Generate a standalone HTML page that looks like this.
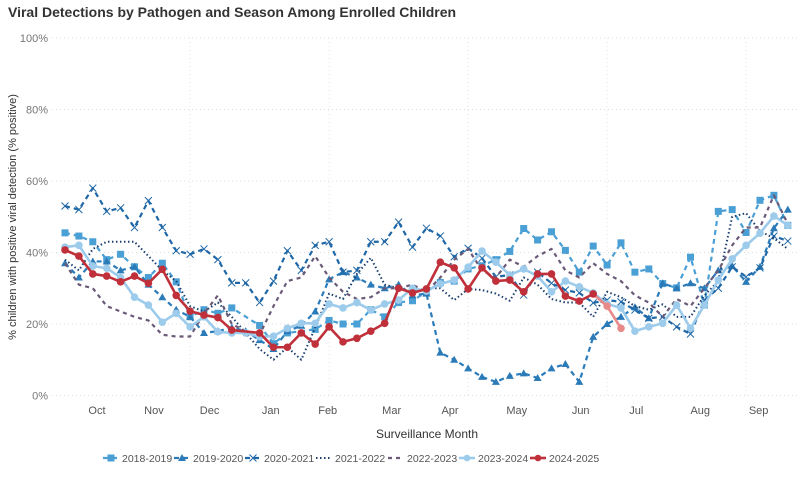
<!DOCTYPE html>
<html><head><meta charset="utf-8"><style>
body{margin:0;background:#fff;font-family:"Liberation Sans",sans-serif;}
svg text{font-family:"Liberation Sans",sans-serif;}
</style></head><body>
<svg id="chart" width="805" height="480" xmlns="http://www.w3.org/2000/svg">
<text x="8" y="17" font-size="14" font-weight="bold" fill="#333">Viral Detections by Pathogen and Season Among Enrolled Children</text>
<g id="grid"></g>
<g id="yticks"></g>
<g id="xticks"></g>
<text transform="translate(16,217) rotate(-90)" text-anchor="middle" font-size="11" fill="#333">% children with positive viral detection (% positive)</text>
<text x="427" y="438" text-anchor="middle" font-size="12" fill="#333">Surveillance Month</text>
<g id="series"></g>
<g id="legend"></g>
</svg>
<script>
const yTicks=[0,20,40,60,80,100];
const monthLabels=['Oct','Nov','Dec','Jan','Feb','Mar','Apr','May','Jun','Jul','Aug','Sep'];
const monthWeeks=[2.3,6.4,10.4,14.8,18.9,23.5,27.7,32.5,37.1,41.1,45.7,49.9];
const gridWeeks=[9,19,29,39,49];
const seasons=['2018-2019','2019-2020','2020-2021','2021-2022','2022-2023','2023-2024','2024-2025'];
const s2018=[45.5,44.6,43,38,39.5,36,33,37,31.8,22,24,23,24.5,null,19.6,14.5,17.5,null,18.5,21,20,20,24,22,26,26.5,29,31.6,32,35.4,36.3,38,40.3,46.7,43.5,45.8,40.6,34.5,41.8,36.5,42.7,34.5,35.4,31.3,30.1,38.7,25.3,51.5,52,45.6,54.6,56,47.6];
const s2019=[37,33,37.5,37.5,35,36,31,27.5,24,22,17.5,18,19,18,15.5,13,18,19.5,23.5,32.5,34.5,33,31,30,31,28,28.5,12,10,7.6,5.2,3.8,5.5,6.2,4.9,7.6,8.8,3.8,16.4,20,22,24.7,21.6,31.4,30,31.4,30,35,36.2,31.8,36,46.8,52];
const s2020=[53,52,58,51.5,52.5,47,54.5,47,40.5,39.5,41,38,31.5,31.5,26,32,40.5,35,42,43,34.5,35,43,43,48.5,41.5,46.8,44.6,38.8,41.2,38.4,33.2,33.7,28.1,34.5,31.4,29.5,28.7,25.9,26.7,26.2,23.9,21.6,22,19.2,17.2,26.7,30,36,33.2,35.7,44.6,43.2];
const s2021=[38,35,41,43,43,43,39,35,32,25,23.5,26,22,17.5,13,10,13.5,10,19,28.5,27,34,38.5,31,30,29,30,30,26.7,29.8,29.5,28.5,26.5,33,31,27,26,26,22,29,27.5,25,24,25.5,22,22,28,32,50,51,46,44,41];
const s2022=[37,31,30,25,23.5,22,21,17,16.5,16.5,23,28,20,18,17,25,32,33,39,33,29,27,27.5,30,30,31,29,33,38,41,35,33,38,36,39,41,35,33,37,34,32,28,26,22,27,25,30,35,42,47,47,56,48];
const s2023=[41.5,42,36.2,35.6,33,27.5,25.3,20.5,23,19.2,22,17.8,17.5,17.5,16.4,16.6,18.8,20.2,20.2,25.6,24.5,26,23.9,25.6,26.7,30,29.2,31.2,32.3,35.9,40.4,37.3,33.7,35.4,33.4,29,32,30.4,28.7,25.6,24.5,18,19.2,20.2,25.3,18.8,25.3,32.3,38.2,42,45.4,50.2,47.6];
const s2024=[40.7,39,34,33.4,31.8,33.4,31.4,35.3,28,23.6,22.5,21.8,18.3,null,17.5,13.5,13.5,17.5,14.4,19.2,15,16,18,20.2,30,28.7,29.8,37.3,35.7,29.8,35.7,32,32.3,29,34,34,27.8,26.4,28.4,25,18.8];

const NS='http://www.w3.org/2000/svg';
const X0=65,DX=13.9,Y0=395.5,YH=357.5,PL=52,PR=800;
const xs=i=>X0+i*DX;
const ys=v=>Y0-v/100*YH;
function mk(tag,attrs,parent){const e=document.createElementNS(NS,tag);for(const k in attrs)e.setAttribute(k,attrs[k]);parent.appendChild(e);return e;}
const grid=document.getElementById('grid'),yt=document.getElementById('yticks'),xt=document.getElementById('xticks'),ser=document.getElementById('series'),leg=document.getElementById('legend');
yTicks.forEach(t=>{
  const l=mk('line',{x1:PL,x2:PR,y1:ys(t),y2:ys(t),stroke:'#ddd','stroke-dasharray':'1 3'},grid);
  
  
  const tx=mk('text',{x:48,y:ys(t)+4,'text-anchor':'end','font-size':11,fill:'#777'},yt);
  tx.textContent=t+'%';
  
  
});
gridWeeks.forEach(w=>{
  const l=mk('line',{x1:xs(w),x2:xs(w),y1:ys(100),y2:ys(0),stroke:'#e4e4e4','stroke-dasharray':'1 3'},grid);
  
  
});
monthLabels.forEach((m,i)=>{
  const tx=mk('text',{x:xs(monthWeeks[i]),y:414,'text-anchor':'middle','font-size':11,fill:'#555'},xt);
  tx.textContent=m;
  
  
});
const styles=[
 {c:'#4a9fd4',w:2.2,d:'5 4',m:'sq'},
 {c:'#2b7bb9',w:2.2,d:'5 4',m:'tri'},
 {c:'#1f67a6',w:2.2,d:'5 4',m:'x'},
 {c:'#1a3f6e',w:2,d:'1.5 2.5',m:null},
 {c:'#6a5a78',w:2.2,d:'4 4',m:null},
 {c:'#9ccbeb',w:2.6,d:null,m:'dot'},
 {c:'#c0303a',w:2.6,d:null,m:'dot'}
];
const data=[s2018,s2019,s2020,s2021,s2022,s2023,s2024];
function marker(type,x,y,c,g,r){
  let e;
  if(type==='sq')e=mk('rect',{x:x-3.5,y:y-3.5,width:7,height:7,fill:c},g);
  else if(type==='tri')e=mk('path',{d:`M${x},${y-4}L${x+4},${y+3}L${x-4},${y+3}Z`,fill:c},g);
  else if(type==='x')e=mk('path',{d:`M${x-3.5},${y-3.5}L${x+3.5},${y+3.5}M${x-3.5},${y+3.5}L${x+3.5},${y-3.5}`,stroke:c,'stroke-width':1,fill:'none'},g);
  else if(type==='dot')e=mk('circle',{cx:x,cy:y,r:r||3.8,fill:c},g);
  return e;
}
data.forEach((arr,si)=>{
  const st=styles[si];
  const g=mk('g',{},ser);
  
  
  const pts=[];arr.forEach((v,i)=>{if(v!==null)pts.push([i,v]);});
  const isLast=si===6;
  const main=isLast?pts.filter(p=>p[0]<=38):pts;
  const p=mk('polyline',{points:main.map(q=>xs(q[0])+','+ys(q[1])).join(' '),fill:'none',stroke:st.c,'stroke-width':st.w,'stroke-linejoin':'round'},g);
  if(st.d)p.setAttribute('stroke-dasharray',st.d);
  
  
  if(isLast){
    const tail=pts.filter(q=>q[0]>=38);
    const p2=mk('polyline',{points:tail.map(q=>xs(q[0])+','+ys(q[1])).join(' '),fill:'none',stroke:'#e88a8a','stroke-width':2.6},g);
    
    
  }
  if(st.m)pts.forEach(q=>{
    const c=(isLast&&q[0]>38)?'#e88a8a':st.c;
    const e=marker(st.m,xs(q[0]),ys(q[1]),c,g);
    
    
  });
});
// legend
const legX=[103,174,245,316,388,459,530];
seasons.forEach((s,i)=>{
  const st=styles[i];
  const g=mk('g',{},leg);
  
  
  const x=legX[i],y=458;
  const l=mk('line',{x1:x,x2:x+16,y1:y,y2:y,stroke:st.c,'stroke-width':st.w},g);
  if(st.d)l.setAttribute('stroke-dasharray',st.d);
  if(st.m)marker(st.m,x+8,y,st.c,g,3.3);
  const t=mk('text',{x:x+19,y:y+4,'font-size':10.5,fill:'#555'},g);
  t.textContent=s;
});
</script>
</body></html>
